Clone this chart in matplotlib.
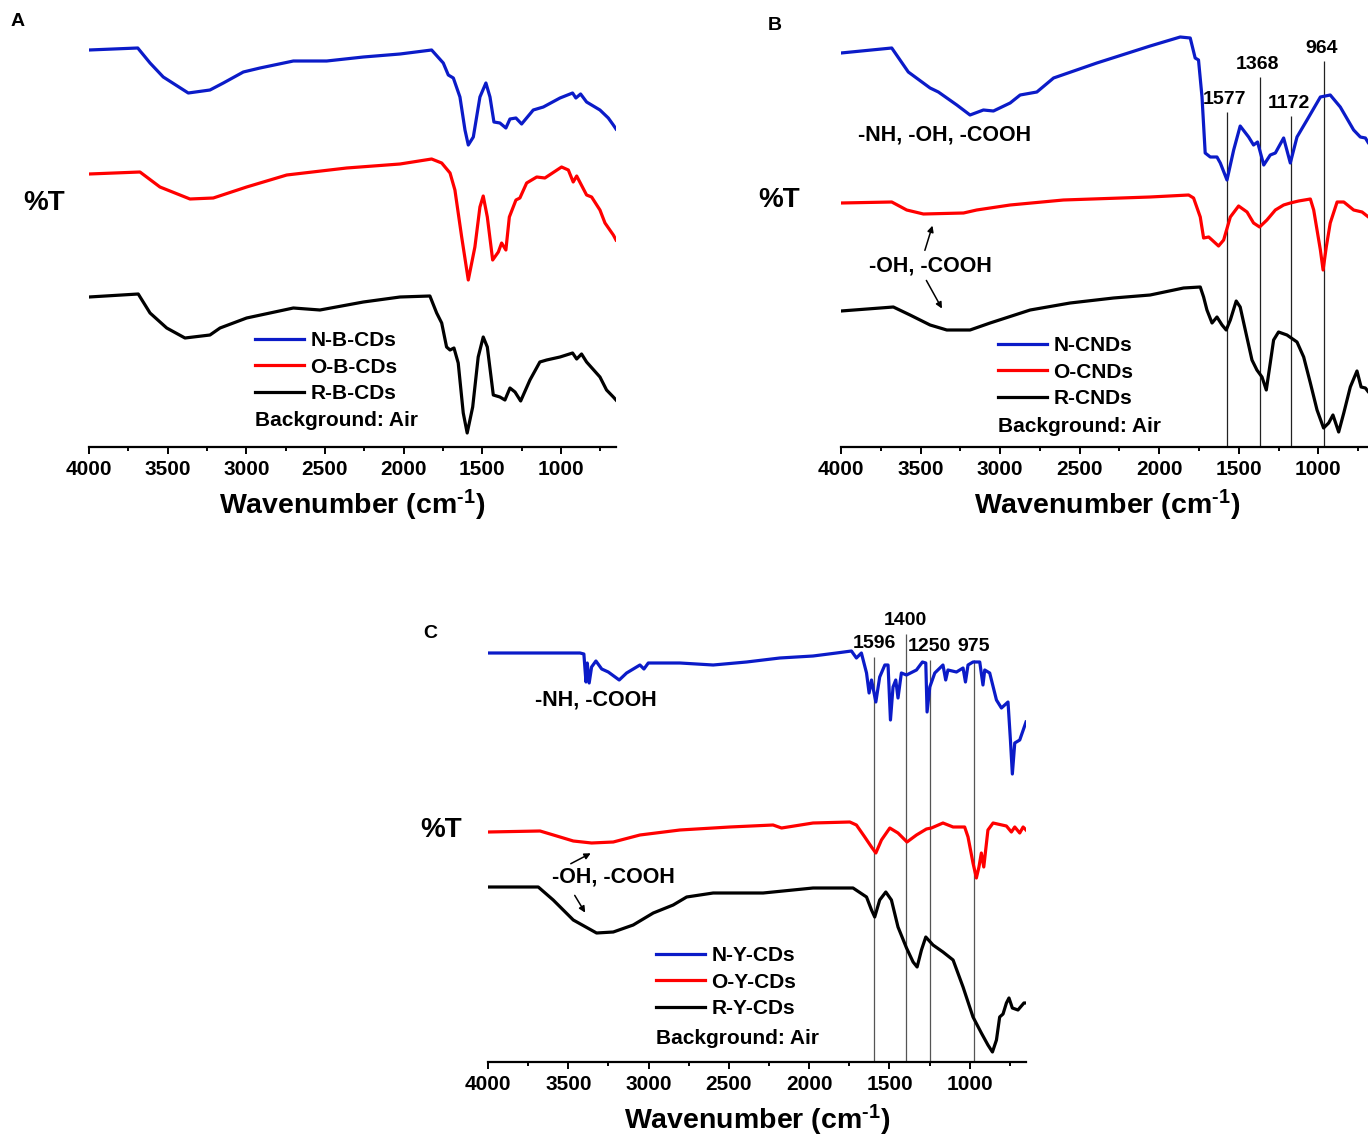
import numpy as np
import matplotlib
matplotlib.use('Agg')
import matplotlib.pyplot as plt

plt.rcParams['font.family'] = ['Liberation Sans', 'DejaVu Sans']
plt.rcParams['font.weight'] = 'bold'
plt.rcParams['mathtext.fontset'] = 'custom'
plt.rcParams['mathtext.bf'] = 'Liberation Sans:bold'
plt.rcParams['mathtext.rm'] = 'Liberation Sans:bold'
plt.rcParams['mathtext.default'] = 'bf'

# ---------------- data (wavenumber, %T in arbitrary units) ----------------
# panel A
a_n_wn = [4000, 3690, 3612, 3528, 3369, 3231, 3146, 3019, 2913, 2701, 2489, 2256, 2023, 1822, 1748, 1716,
          1684, 1642, 1610, 1589, 1557, 1515, 1477, 1451, 1426, 1388, 1350, 1324, 1286, 1250, 1176, 1112,
          1006, 926, 905, 875, 837, 752, 699, 667, 650]
a_n_t = [397, 399, 384, 370, 354, 357, 364, 375, 379, 386, 386, 390, 393, 397, 384, 372,
         369, 350, 317, 302, 310, 350, 364, 350, 325, 324, 319, 328, 329, 323, 337, 340,
         349, 354, 349, 353, 345, 337, 329, 322, 318]
a_o_wn = [4000, 3676, 3549, 3358, 3210, 2998, 2743, 2362, 2023, 1822, 1758, 1705, 1674, 1631, 1589, 1547,
          1515, 1494, 1468, 1434, 1398, 1377, 1350, 1328, 1286, 1261, 1218, 1154, 1102, 996, 953, 922,
          900, 837, 805, 752, 720, 667, 650]
a_o_t = [273, 275, 260, 248, 249, 260, 272, 279, 283, 288, 284, 274, 257, 210, 167, 200,
         240, 251, 230, 187, 195, 204, 197, 230, 247, 249, 264, 270, 269, 280, 277, 265,
         271, 252, 250, 237, 224, 212, 207]
a_r_wn = [4000, 3687, 3612, 3506, 3390, 3231, 3167, 2998, 2701, 2532, 2256, 2023, 1833, 1790, 1758, 1727,
          1705, 1680, 1653, 1621, 1596, 1561, 1526, 1494, 1468, 1430, 1388, 1356, 1324, 1292, 1256, 1197,
          1134, 1091, 1006, 926, 900, 869, 837, 752, 710, 667, 650]
a_r_t = [150, 153, 134, 119, 109, 112, 119, 129, 139, 137, 145, 150, 151, 134, 124, 100,
         97, 99, 84, 34, 14, 40, 90, 110, 100, 52, 50, 47, 59, 55, 46, 67,
         85, 87, 90, 94, 88, 93, 85, 70, 57, 50, 47]

# panel B
b_n_wn = [4000, 3681, 3629, 3577, 3440, 3388, 3272, 3189, 3105, 3042, 2937, 2874, 2769, 2664, 2392, 2057,
          1868, 1805, 1774, 1753, 1731, 1711, 1679, 1637, 1616, 1574, 1532, 1491, 1438, 1407, 1382, 1343,
          1302, 1270, 1218, 1176, 1134, 1071, 987, 925, 862, 778, 736, 704, 685, 650]
b_n_t = [394, 399, 387, 375, 359, 355, 342, 332, 337, 336, 344, 352, 355, 369, 384, 401,
         410, 409, 389, 387, 350, 294, 290, 290, 284, 267, 297, 321, 310, 302, 305, 282,
         292, 294, 309, 284, 310, 327, 350, 352, 340, 317, 310, 309, 304, 298]
b_o_wn = [4000, 3681, 3587, 3482, 3230, 3147, 2937, 2602, 2057, 1815, 1784, 1742, 1721, 1689, 1668, 1627,
          1595, 1553, 1501, 1448, 1407, 1369, 1323, 1270, 1218, 1176, 1124, 1050, 1029, 1008, 987, 970,
          950, 925, 882, 840, 778, 725, 685, 650]
b_o_t = [244, 245, 237, 233, 234, 237, 242, 247, 250, 252, 249, 230, 209, 210, 207, 201,
         207, 230, 241, 235, 224, 220, 227, 237, 242, 244, 246, 248, 237, 217, 197, 177,
         200, 224, 245, 245, 237, 235, 230, 226]
b_r_wn = [4000, 3671, 3566, 3440, 3335, 3189, 3063, 2811, 2560, 2287, 2057, 1847, 1742, 1721, 1700, 1668,
          1637, 1605, 1579, 1553, 1516, 1491, 1459, 1417, 1386, 1354, 1327, 1302, 1281, 1250, 1197, 1134,
          1092, 1050, 1008, 967, 935, 908, 872, 840, 799, 757, 731, 704, 685, 650]
b_r_t = [136, 140, 132, 122, 117, 117, 124, 137, 144, 149, 152, 159, 160, 150, 137, 124,
         130, 122, 117, 127, 146, 140, 117, 87, 77, 70, 57, 84, 107, 115, 112, 105,
         90, 64, 37, 19, 24, 32, 15, 34, 60, 76, 60, 59, 55, 50]

# panel C
c_n_wn = [4000, 3427, 3403, 3390, 3382, 3370, 3355, 3328, 3292, 3251, 3183, 3137, 3054, 3029, 3002, 2805,
          2598, 2390, 2183, 1976, 1830, 1737, 1706, 1675, 1643, 1627, 1612, 1585, 1561, 1529, 1509, 1494,
          1478, 1461, 1447, 1426, 1394, 1332, 1295, 1274, 1266, 1249, 1218, 1167, 1150, 1136, 1083, 1042,
          1027, 1011, 980, 938, 918, 907, 876, 834, 803, 762, 747, 735, 720, 689, 650]
c_n_t = [409, 409, 408, 380, 399, 379, 395, 401, 393, 390, 382, 389, 397, 393, 399, 399,
         397, 400, 404, 406, 409, 411, 404, 409, 389, 369, 382, 360, 385, 397, 397, 342,
         375, 382, 364, 389, 387, 392, 400, 399, 350, 375, 389, 397, 382, 392, 390, 394,
         380, 397, 400, 400, 377, 392, 389, 362, 354, 360, 322, 288, 319, 322, 340]
c_o_wn = [4000, 3676, 3572, 3469, 3355, 3220, 3054, 2805, 2494, 2225, 2172, 1976, 1747, 1706, 1654, 1612,
          1585, 1550, 1498, 1447, 1391, 1332, 1270, 1239, 1167, 1104, 1032, 1011, 980, 959, 943, 928,
          913, 887, 855, 772, 741, 720, 689, 668, 650]
c_o_t = [230, 231, 226, 221, 219, 220, 227, 232, 235, 237, 234, 239, 240, 237, 225, 215,
         209, 222, 234, 229, 220, 227, 233, 234, 239, 235, 235, 225, 199, 184, 195, 209,
         195, 232, 239, 236, 230, 235, 229, 235, 232]
c_r_wn = [4000, 3687, 3594, 3469, 3324, 3220, 3096, 2971, 2847, 2763, 2598, 2287, 1976, 1727, 1643, 1612,
          1592, 1561, 1523, 1488, 1447, 1394, 1353, 1328, 1301, 1274, 1229, 1167, 1104, 1042, 980, 928,
          887, 859, 834, 814, 793, 772, 756, 735, 700, 663, 650]
c_r_t = [175, 175, 162, 142, 129, 130, 137, 149, 157, 165, 169, 169, 174, 174, 165, 152,
         145, 162, 170, 162, 135, 114, 100, 95, 112, 125, 117, 110, 102, 75, 45, 29,
         17, 10, 22, 45, 48, 59, 64, 54, 52, 59, 59]

labels_a = ['N-B-CDs', 'O-B-CDs', 'R-B-CDs']
labels_b = ['N-CNDs', 'O-CNDs', 'R-CNDs']
labels_c = ['N-Y-CDs', 'O-Y-CDs', 'R-Y-CDs']

peaks_b = [1577, 1368, 1172, 964]
peak_tops_b = [335, 370, 331, 386]
peaks_c = [1596, 1400, 1250, 975]
peak_tops_c = [405, 428, 402, 402]

colors = ['#0b1bc8', '#ff0000', '#000000']

W, H = 1368, 1140
fig = plt.figure(figsize=(W / 100, H / 100), dpi=100)


def px_axes(left, top, right, bottom):
    return fig.add_axes([left / W, 1 - bottom / H, (right - left) / W, (bottom - top) / H])


def ftext(x, y, s, **kw):
    fig.text(x / W, 1 - y / H, s, **kw)


def panel(ax, series, labels, ytop, leg_xy, bg_xy):
    for (wn, t), c, lab in zip(series, colors, labels):
        ax.plot(wn, t, color=c, lw=2.3, label=lab, solid_joinstyle='round')
    ax.set_xlim(4000, 650)
    ax.set_ylim(0, ytop)
    for s in ['left', 'right', 'top']:
        ax.spines[s].set_visible(False)
    ax.spines['bottom'].set_linewidth(1.6)
    ax.set_yticks([])
    ax.set_xticks([4000, 3500, 3000, 2500, 2000, 1500, 1000])
    ax.set_xticks(np.arange(3750, 650, -500), minor=True)
    ax.tick_params(axis='x', which='major', direction='out', length=5, width=1.4,
                   labelsize=15, pad=4.5)
    ax.tick_params(axis='x', which='minor', direction='out', length=3, width=1.4)
    for lbl in ax.get_xticklabels():
        lbl.set_fontweight('bold')
    ax.set_xlabel('Wavenumber (cm$^{\\text{-1}}$)', fontsize=20.5, fontweight='bold', labelpad=6)
    ax.patch.set_alpha(0)
    leg = ax.legend(loc='upper left', bbox_to_anchor=(leg_xy[0] / W, 1 - leg_xy[1] / H),
                    bbox_transform=fig.transFigure, frameon=False, borderpad=0, borderaxespad=0,
                    handlelength=2.35, handletextpad=0.3, labelspacing=0.37,
                    prop={'size': 15, 'weight': 'bold'})
    for h in leg.get_lines():
        h.set_linewidth(2.3)
    ftext(bg_xy[0], bg_xy[1], 'Background: Air', fontsize=15, fontweight='bold', va='center')


# panel A
ax_a = px_axes(89, 30, 616, 447)
panel(ax_a, [(a_n_wn, a_n_t), (a_o_wn, a_o_t), (a_r_wn, a_r_t)], labels_a, 417,
      (255, 331), (255, 420))
ftext(18, 22, 'A', fontsize=14, fontweight='bold', ha='center', va='center')
ftext(44, 203, '%T', fontsize=20, fontweight='bold', ha='center', va='center')

# panel B (runs past the right edge of the figure, as in the original)
ax_b = px_axes(841, 30, 1374, 447)
panel(ax_b, [(b_n_wn, b_n_t), (b_o_wn, b_o_t), (b_r_wn, b_r_t)], labels_b, 417,
      (998, 336), (998, 426))
ax_b.vlines(peaks_b, 0, peak_tops_b, color='#222222', lw=0.9, zorder=1)
for p, t in zip(peaks_b, peak_tops_b):
    ax_b.text(p + 15, t + 4, str(p), fontsize=14, fontweight='bold', ha='center', va='bottom')
ax_b.text(3346, 312, '-NH, -OH, -COOH', fontsize=15.5, fontweight='bold', ha='center', va='center')
ax_b.text(3440, 181, '-OH, -COOH', fontsize=15.5, fontweight='bold', ha='center', va='center')
ax_b.annotate('', xy=(3420, 224), xytext=(3478, 194),
              arrowprops=dict(arrowstyle='-|>', color='black', lw=1.1, mutation_scale=9))
ax_b.annotate('', xy=(3357, 136), xytext=(3472, 169),
              arrowprops=dict(arrowstyle='-|>', color='black', lw=1.1, mutation_scale=9))
ftext(775, 25, 'B', fontsize=14, fontweight='bold', ha='center', va='center')
ftext(779, 200, '%T', fontsize=20, fontweight='bold', ha='center', va='center')

# panel C
ax_c = px_axes(488, 600, 1026, 1062)
panel(ax_c, [(c_n_wn, c_n_t), (c_o_wn, c_o_t), (c_r_wn, c_r_t)], labels_c, 462,
      (656, 946), (656, 1038))
ax_c.vlines(peaks_c, 0, peak_tops_c, color='#555555', lw=0.9, zorder=1)
for p, t in zip(peaks_c, peak_tops_c):
    ax_c.text(p, t + 5, str(p), fontsize=14, fontweight='bold', ha='center', va='bottom')
ax_c.text(3328, 362, '-NH, -COOH', fontsize=15.5, fontweight='bold', ha='center', va='center')
ax_c.text(3222, 185, '-OH, -COOH', fontsize=15.5, fontweight='bold', ha='center', va='center')
ax_c.annotate('', xy=(3345, 210), xytext=(3500, 197),
              arrowprops=dict(arrowstyle='-|>', color='black', lw=1.1, mutation_scale=9))
ax_c.annotate('', xy=(3386, 147), xytext=(3469, 169),
              arrowprops=dict(arrowstyle='-|>', color='black', lw=1.1, mutation_scale=9))
ftext(430, 633, 'C', fontsize=14, fontweight='bold', ha='center', va='center')
ftext(441, 830, '%T', fontsize=20, fontweight='bold', ha='center', va='center')

fig.savefig('out.png', dpi=100)
